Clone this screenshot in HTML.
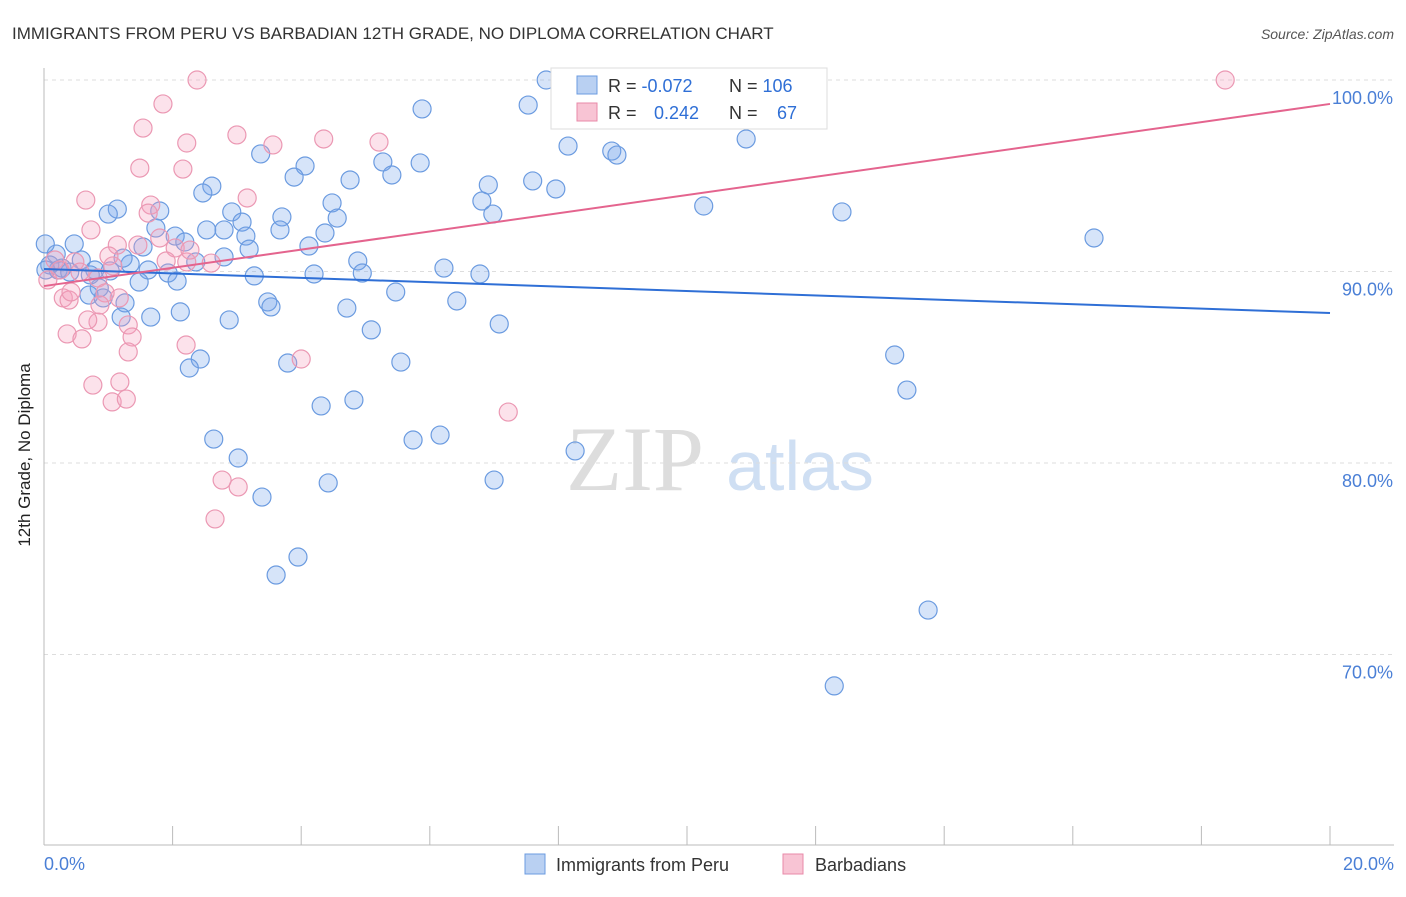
<!DOCTYPE html>
<html><head><meta charset="utf-8"><style>
body{margin:0;background:#fff;font-family:"Liberation Sans",sans-serif}
</style></head><body>
<svg width="1406" height="892" xmlns="http://www.w3.org/2000/svg" style="font-family:'Liberation Sans',sans-serif">
<text x="12" y="39" font-size="17" fill="#333">IMMIGRANTS FROM PERU VS BARBADIAN 12TH GRADE, NO DIPLOMA CORRELATION CHART</text>
<text x="1394" y="39" font-size="14" fill="#555" text-anchor="end" font-style="italic">Source: ZipAtlas.com</text>
<g><text x="635" y="490" font-size="92" fill="#ddd" text-anchor="middle" font-family="Liberation Serif,serif">ZIP</text><text x="800" y="490" font-size="70" fill="#cfdff3" text-anchor="middle">atlas</text></g>
<g id="grid"></g>
<line x1="44" y1="68" x2="44" y2="845" stroke="#bbb"/>
<line x1="44" y1="845" x2="1394" y2="845" stroke="#bbb"/>
<g id="ticks"></g>
<text x="30" y="455" font-size="17" fill="#222" text-anchor="middle" transform="rotate(-90 30 455)">12th Grade, No Diploma</text>
<text x="44" y="870" font-size="18" fill="#4a7fd6">0.0%</text>
<text x="1394" y="870" font-size="18" fill="#4a7fd6" text-anchor="end">20.0%</text>
<g id="pts"></g>
<g id="lines"></g>
<g>
<rect x="551" y="68" width="276" height="61" fill="#fff" stroke="#ddd"/>
<rect x="577" y="76" width="20" height="18" fill="#b9d0f2" stroke="#6b9be0"/>
<rect x="577" y="103" width="20" height="18" fill="#f8c4d4" stroke="#e88aa8"/>
<text x="608" y="92" font-size="18" fill="#333">R = <tspan fill="#2f6fd6">-0.072</tspan><tspan x="729">N = </tspan><tspan fill="#2f6fd6">106</tspan></text>
<text x="608" y="119" font-size="18" fill="#333">R = <tspan fill="#2f6fd6" x="654">0.242</tspan><tspan x="729">N = </tspan><tspan fill="#2f6fd6" x="777">67</tspan></text>
</g>
<g>
<rect x="525" y="854" width="20" height="20" fill="#b9d0f2" stroke="#6b9be0"/>
<text x="556" y="871" font-size="18" fill="#333">Immigrants from Peru</text>
<rect x="783" y="854" width="20" height="20" fill="#f8c4d4" stroke="#e88aa8"/>
<text x="815" y="871" font-size="18" fill="#333">Barbadians</text>
</g>
</svg>
<script>
const yTicks=[100,90,80,70];
const xTicks=[0,2,4,6,8,10,12,14,16,18,20];
const blueX=[7.81,9.53,7.53,5.88,8.15,10.92,8.83,8.91,3.37,4.06,5.27,5.85,3.89,4.76,5.41,7.60,6.91,7.96,2.61,2.47,1.14,1.00,1.80,2.92,3.70,4.48,4.56,6.81,6.98,10.26,12.41,1.74,2.53,3.08,3.67,2.80,4.37,2.04,2.19,3.14,4.12,16.33,1.54,3.19,0.47,0.19,0.58,1.34,2.36,2.80,4.88,1.23,1.62,1.93,3.27,4.20,4.95,6.22,6.78,0.79,0.22,1.03,1.48,2.07,0.86,0.70,0.92,3.48,3.53,5.47,6.42,4.71,1.26,2.12,1.66,2.88,1.20,7.08,5.09,2.43,2.26,3.79,5.55,13.23,13.42,4.82,4.31,6.16,5.74,2.64,3.02,8.26,7.00,4.42,3.39,3.95,3.61,13.75,12.29,0.02,0.28,0.40,0.09,0.03,0.72];
const blueY=[100.0,100.0,98.69,98.49,96.55,96.92,96.29,96.08,96.14,95.51,95.72,95.67,94.93,94.78,95.04,94.73,94.52,94.31,94.46,94.10,93.26,93.00,93.16,93.11,92.85,93.58,92.79,93.68,93.00,93.42,93.11,92.27,92.17,92.58,92.17,92.17,92.01,91.85,91.54,91.85,91.33,91.75,91.28,91.17,91.44,90.91,90.60,90.39,90.50,90.76,90.55,90.70,90.08,89.92,89.77,89.87,89.92,90.18,89.87,90.08,90.08,90.03,89.45,89.50,89.14,88.77,88.62,88.41,88.15,88.93,88.46,88.09,88.36,87.89,87.62,87.47,87.62,87.26,86.95,85.43,84.96,85.22,85.27,85.64,83.81,83.29,82.98,81.46,81.20,81.25,80.26,80.63,79.11,78.96,78.22,75.09,74.15,72.32,68.36,91.44,90.18,89.97,90.34,90.08,89.82];
const pinkX=[2.38,18.37,1.85,1.54,2.22,3.00,3.56,4.35,5.21,1.49,2.16,3.16,0.65,1.66,1.62,0.73,1.46,2.04,1.14,1.01,1.90,1.07,2.22,2.60,2.27,1.80,0.84,0.30,0.39,0.42,1.17,0.36,0.59,0.84,1.31,1.37,1.31,0.68,4.00,2.21,0.76,1.18,1.06,1.28,7.22,2.77,3.02,2.66,0.06,0.17,0.25,0.48,0.95,0.87,0.56];
const pinkY=[100.0,100.0,98.75,97.49,96.71,97.13,96.61,96.92,96.76,95.40,95.35,93.84,93.73,93.47,93.05,92.17,91.38,91.23,91.38,90.81,90.55,90.29,90.50,90.44,91.12,91.75,89.66,88.62,88.51,88.93,88.62,86.74,86.48,87.36,87.21,86.58,85.80,87.47,85.43,86.16,84.07,84.23,83.19,83.34,82.66,79.11,78.75,77.08,89.56,90.60,90.08,90.50,88.88,88.25,89.97];
const blueTrend=[90.13,87.83];
const pinkTrend=[89.24,98.75];
const NS='http://www.w3.org/2000/svg';
const X0=44,X1=1330,Y100=80,PX10=191.5;
function sx(v){return X0+(v/20)*(X1-X0);}
function sy(v){return Y100+(100-v)/10*PX10;}
function mk(tag,a,parent){const e=document.createElementNS(NS,tag);for(const k in a)e.setAttribute(k,a[k]);parent.appendChild(e);return e;}
const grid=document.getElementById('grid');
yTicks.forEach(t=>{
 const l=mk('line',{x1:44,x2:1394,y1:sy(t),y2:sy(t),stroke:'#ddd','stroke-dasharray':'4,4'},grid);
 
 
 const tx=mk('text',{x:1393,y:sy(t)+24,'font-size':18,fill:'#4a7fd6','text-anchor':'end'},grid);
 tx.textContent=t.toFixed(1)+'%';
 
 
});
const ticks=document.getElementById('ticks');
xTicks.forEach(t=>{
 const l=mk('line',{x1:sx(t),x2:sx(t),y1:826,y2:845,stroke:'#bbb'},ticks);
 
 
});
const pts=document.getElementById('pts');
blueX.forEach((v,i)=>{
 const c=mk('circle',{cx:sx(v),cy:sy(blueY[i]),r:9,fill:'rgba(120,165,235,0.3)',stroke:'#6b9be0','stroke-width':1.2},pts);
 
 
});
pinkX.forEach((v,i)=>{
 const c=mk('circle',{cx:sx(v),cy:sy(pinkY[i]),r:9,fill:'rgba(245,160,190,0.3)',stroke:'#eb98b3','stroke-width':1.2},pts);
 
 
});
const lines=document.getElementById('lines');
const bl=mk('line',{x1:sx(0),y1:sy(blueTrend[0]),x2:sx(20),y2:sy(blueTrend[1]),stroke:'#2f6fd6','stroke-width':2},lines);


const pl=mk('line',{x1:sx(0),y1:sy(pinkTrend[0]),x2:sx(20),y2:sy(pinkTrend[1]),stroke:'#e4648e','stroke-width':2},lines);


</script>
</body></html>
